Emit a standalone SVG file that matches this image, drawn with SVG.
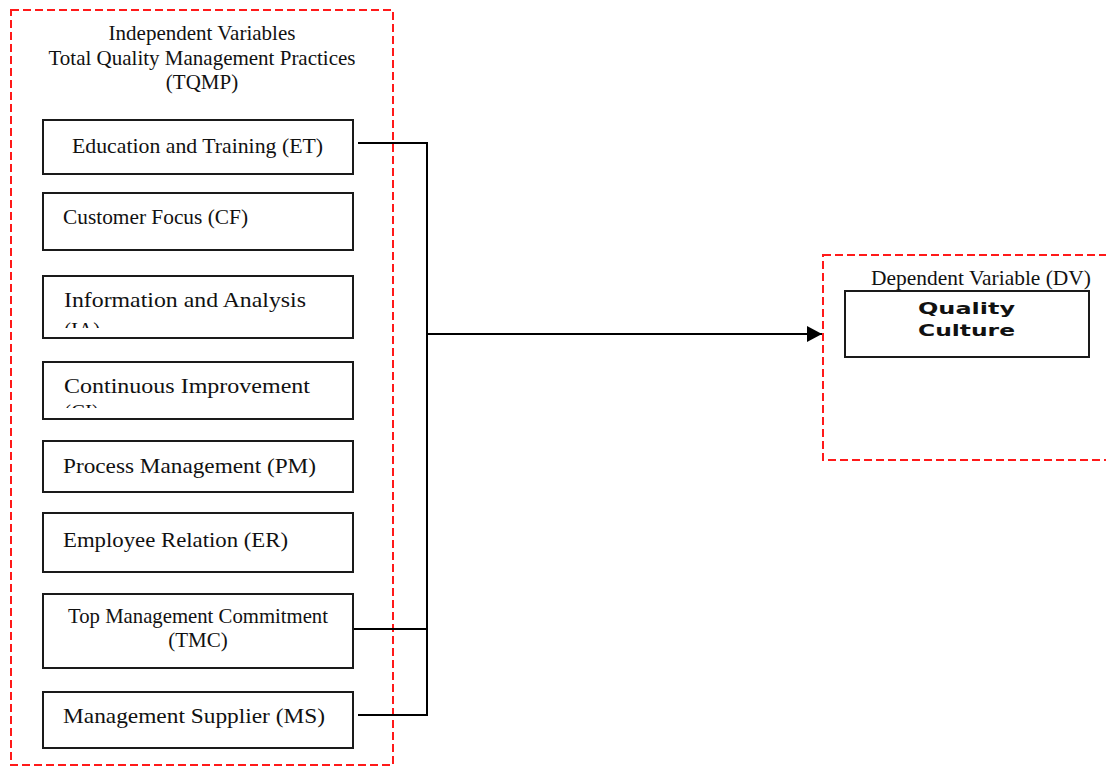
<svg xmlns="http://www.w3.org/2000/svg" width="1106" height="767" viewBox="0 0 1106 767">
<style>
.frame{fill:none;stroke:#ff1a1a;stroke-width:2;stroke-dasharray:8 4}
.box{fill:#fff;stroke:#1a1a1a;stroke-width:2}
.t{font-family:"Liberation Serif","Times New Roman",serif;font-size:21px;fill:#111}
.b{font-family:"DejaVu Sans",Verdana,sans-serif;font-size:15px;font-weight:bold;fill:#111}
.c{fill:none;stroke:#000;stroke-width:2}
</style>
<defs>
<marker id="arr" markerWidth="16" markerHeight="16" refX="15" refY="8" orient="auto" markerUnits="userSpaceOnUse">
<path d="M0,0 L15,8 L0,16 Z" fill="#000"/>
</marker>
<clipPath id="clipIA"><rect x="44" y="277" width="308" height="51"/></clipPath>
<clipPath id="clipCI"><rect x="44" y="363" width="308" height="45"/></clipPath>
</defs>

<g id="iv-frame">
<rect class="frame" x="11" y="10" width="382" height="755"/>
<text class="t" x="202" y="40" text-anchor="middle">Independent Variables</text>
<text class="t" x="202" y="65" text-anchor="middle">Total Quality Management Practices</text>
<text class="t" x="202" y="89" text-anchor="middle">(TQMP)</text>
</g>

<g id="connectors">
<polyline class="c" points="358,143 427,143 427,715 358,715"/>
<line class="c" x1="353" y1="629" x2="427" y2="629"/>
<line class="c" x1="427" y1="334" x2="822" y2="334" marker-end="url(#arr)"/>
</g>

<g id="node-et">
<rect class="box" x="43" y="120" width="310" height="54"/>
<text class="t" x="72" y="153" textLength="251" lengthAdjust="spacingAndGlyphs">Education and Training (ET)</text>
</g>
<g id="node-cf">
<rect class="box" x="43" y="193" width="310" height="57"/>
<text class="t" x="63" y="224" textLength="185" lengthAdjust="spacingAndGlyphs">Customer Focus (CF)</text>
</g>
<g id="node-ia">
<rect class="box" x="43" y="276" width="310" height="62"/>
<g clip-path="url(#clipIA)">
<text class="t" x="64" y="307" textLength="242" lengthAdjust="spacingAndGlyphs">Information and Analysis</text>
<text class="t" x="64" y="337">(IA)</text>
</g>
</g>
<g id="node-ci">
<rect class="box" x="43" y="362" width="310" height="57"/>
<g clip-path="url(#clipCI)">
<text class="t" x="64" y="393" textLength="246" lengthAdjust="spacingAndGlyphs">Continuous Improvement</text>
<text class="t" x="64" y="419">(CI)</text>
</g>
</g>
<g id="node-pm">
<rect class="box" x="43" y="441" width="310" height="51"/>
<text class="t" x="63" y="473" textLength="253" lengthAdjust="spacingAndGlyphs">Process Management (PM)</text>
</g>
<g id="node-er">
<rect class="box" x="43" y="513" width="310" height="59"/>
<text class="t" x="63" y="547" textLength="225" lengthAdjust="spacingAndGlyphs">Employee Relation (ER)</text>
</g>
<g id="node-tmc">
<rect class="box" x="43" y="594" width="310" height="74"/>
<text class="t" x="68" y="623" font-size="19" textLength="260" lengthAdjust="spacingAndGlyphs">Top Management Commitment</text>
<text class="t" x="198" y="647" font-size="19" text-anchor="middle">(TMC)</text>
</g>
<g id="node-ms">
<rect class="box" x="43" y="692" width="310" height="56"/>
<text class="t" x="63" y="723" textLength="262" lengthAdjust="spacingAndGlyphs">Management Supplier (MS)</text>
</g>

<g id="dv-frame">
<rect class="frame" x="823" y="255" width="300" height="205"/>
<text class="t" x="871" y="285" textLength="220" lengthAdjust="spacingAndGlyphs">Dependent Variable (DV)</text>
</g>
<g id="node-qc">
<rect class="box" x="845" y="291" width="244" height="66"/>
<text class="b" x="918" y="314" textLength="97" lengthAdjust="spacingAndGlyphs">Quality</text>
<text class="b" x="918" y="336" textLength="97" lengthAdjust="spacingAndGlyphs">Culture</text>
</g>
</svg>
